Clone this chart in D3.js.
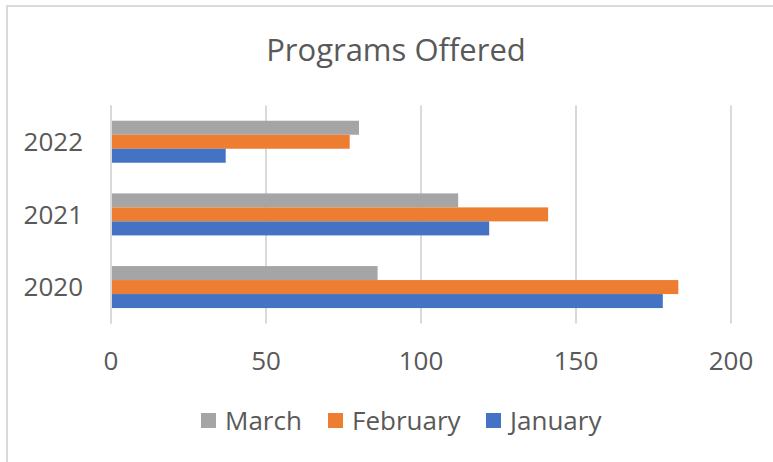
<!DOCTYPE html>
<html>
<head>
<meta charset="utf-8">
<script src="https://cdn.jsdelivr.net/npm/d3@7"></script>
<style>
  body { margin: 0; background: #fff; }
  text { font-family: "Open Sans", sans-serif; fill: #595959; }
</style>
</head>
<body>
<div id="chart"></div>
<script>
"use strict";

const years = ["2022", "2021", "2020"];
const seriesNames = ["March", "February", "January"];
const january = [37, 122, 178];
const february = [77, 141, 183];
const march = [80, 112, 86];
const xTicks = [0, 50, 100, 150, 200];

const colors = {
    January : "#4472C4",
    February: "#ED7D31",
    March   : "#A5A5A5"
};
const valuesBySeries = {
    January : january,
    February: february,
    March   : march
};

const width = 773;
const height = 462;
const plot = { left: 111, right: 731, top: 105.4, bottom: 323.4 };

const svg = d3.select("#chart").append("svg")
              .attr("width", width)
              .attr("height", height);

// outer chart border (only left and top show in the crop)
svg.append("rect")
   .attr("x", 7).attr("y", 6)
   .attr("width", 800).attr("height", 500)
   .attr("fill", "none")
   .attr("stroke", "#d9d9d9")
   .attr("stroke-width", 2);

svg.append("text")
   .attr("x", 396).attr("y", 61)
   .attr("text-anchor", "middle")
   .style("font-size", "31px")
   .text("Programs Offered");

const xScale = d3.scaleLinear()
                 .domain([0, 200])
                 .range([plot.left, plot.right]);
const yScale = d3.scaleBand()
                 .domain(years)
                 .range([plot.top, plot.bottom])
                 .paddingInner(0.422)
                 .paddingOuter(0.211);
const inner = d3.scaleBand()
                .domain(seriesNames)
                .range([0, yScale.bandwidth()]);

// gridlines
svg.append("g")
   .selectAll("line")
   .data(xTicks)
   .join("line")
   .attr("x1", d => xScale(d)).attr("x2", d => xScale(d))
   .attr("y1", plot.top).attr("y2", plot.bottom)
   .attr("stroke", "#d9d9d9")
   .attr("stroke-width", 2);

// bars
const rows = years.flatMap((year, i) =>
    seriesNames.map(name => ({ year, name, value: valuesBySeries[name][i] })));

svg.append("g")
   .selectAll("rect")
   .data(rows)
   .join("rect")
   .attr("x", xScale(0))
   .attr("y", d => yScale(d.year) + inner(d.name))
   .attr("width", d => xScale(d.value) - xScale(0))
   .attr("height", inner.bandwidth())
   .attr("fill", d => colors[d.name]);

// vertical axis line
svg.append("line")
   .attr("x1", xScale(0)).attr("x2", xScale(0))
   .attr("y1", plot.top).attr("y2", plot.bottom)
   .attr("stroke", "#d9d9d9")
   .attr("stroke-width", 2);

// category labels
svg.append("g")
   .selectAll("text")
   .data(years)
   .join("text")
   .attr("x", 83)
   .attr("y", d => yScale(d) + yScale.bandwidth() / 2)
   .attr("dy", "0.36em")
   .attr("text-anchor", "end")
   .style("font-size", "26px")
   .text(d => d);

// value axis labels
svg.append("g")
   .selectAll("text")
   .data(xTicks)
   .join("text")
   .attr("x", d => xScale(d))
   .attr("y", 370)
   .attr("text-anchor", "middle")
   .style("font-size", "26px")
   .text(d => d);

// legend
const legendX = [201, 328, 486];
const legend = svg.append("g")
                  .selectAll("g")
                  .data(seriesNames)
                  .join("g")
                  .attr("transform", (d, i) => `translate(${legendX[i]}, 0)`);
legend.append("rect")
      .attr("x", 0).attr("y", 413)
      .attr("width", 15).attr("height", 15)
      .attr("fill", d => colors[d]);
legend.append("text")
      .attr("x", 24).attr("y", 430)
      .style("font-size", "26px")
      .text(d => d);
</script>
</body>
</html>
